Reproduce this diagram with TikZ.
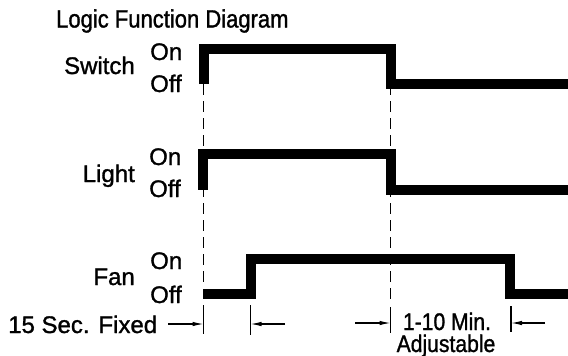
\documentclass[tikz,border=0pt]{standalone}
\usepackage{fontspec}
\setmainfont{Liberation Sans}[FakeBold=1.2]
\newfontfamily\narrowfont{Liberation Sans}[FakeStretch=0.88, FakeBold=1.2]
\usetikzlibrary{arrows.meta}
\tikzset{
  wave/.style={line width=10pt, miter limit=10},
  guide/.style={line width=1.2pt, dash pattern=on 11pt off 6pt},
  ext/.style={line width=1.1pt},
  dimarrow/.style={line width=1.1pt, -{Latex[length=11pt,width=4.5pt]}},
  lbl/.style={font=\fontsize{24}{28}\selectfont, inner sep=0pt},
  narrowlbl/.style={font=\narrowfont\fontsize{24}{28}\selectfont, inner sep=0pt},
}
\begin{document}
\begin{tikzpicture}[x=1pt, y=-1pt]
  \useasboundingbox (0,0) rectangle (568,356);
  % texts
  \node[narrowlbl, font=\narrowfont\fontsize{25}{30}\selectfont, anchor=base west] (title) at (56,27.5) {Logic Function Diagram};
  \node[lbl, anchor=base east] (switch) at (135,74) {Switch};
  \node[lbl, anchor=base west] (switchon) at (150,60) {On};
  \node[lbl, anchor=base west] (switchoff) at (150,92) {Off};
  \node[lbl, anchor=base east] (light) at (135,182) {Light};
  \node[lbl, anchor=base west] (lighton) at (149,165) {On};
  \node[lbl, anchor=base west] (lightoff) at (149,197) {Off};
  \node[lbl, anchor=base east] (fan) at (135,285) {Fan};
  \node[lbl, anchor=base west] (fanon) at (150,269) {On};
  \node[lbl, anchor=base west] (fanoff) at (150,303) {Off};
  \node[lbl, anchor=base west] (fixed) at (8,333) {15 Sec. Fixed};
  \node[narrowlbl, anchor=base] (mins) at (447,330) {1-10 Min.};
  \node[narrowlbl, anchor=base] (adjust) at (446,352) {Adjustable};
  % guide lines
  \draw[guide] (203.5,84) -- (203.5,284);
  \draw[guide] (390.5,84) -- (390.5,301);
  \draw[ext] (203.5,305) -- (203.5,334);
  \draw[ext] (250.5,305) -- (250.5,335);
  \draw[ext] (390.5,307) -- (390.5,333);
  \draw[ext] (511,306) -- (511,332);
  % dimension arrows
  \coordinate (fixl) at (203.5,324);
  \coordinate (fixr) at (250.5,324);
  \coordinate (minl) at (390.5,323);
  \coordinate (minr) at (511,323);
  \draw[dimarrow] (168,324) -- (fixl);
  \draw[dimarrow] (285,324) -- (fixr);
  \draw[dimarrow] (355,323) -- (minl);
  \draw[dimarrow] (545,323) -- (minr);
  % waveforms
  \draw[wave] (204,84) -- (204,48.5) -- (390.5,48.5) -- (390.5,84) -- (568,84);
  \draw[wave] (203,189.5) -- (203,153.5) -- (390.5,153.5) -- (390.5,189.5) -- (568,189.5);
  \draw[wave] (203,294) -- (250.5,294) -- (250.5,259) -- (510,259) -- (510,294) -- (568,294);
\end{tikzpicture}
\end{document}
